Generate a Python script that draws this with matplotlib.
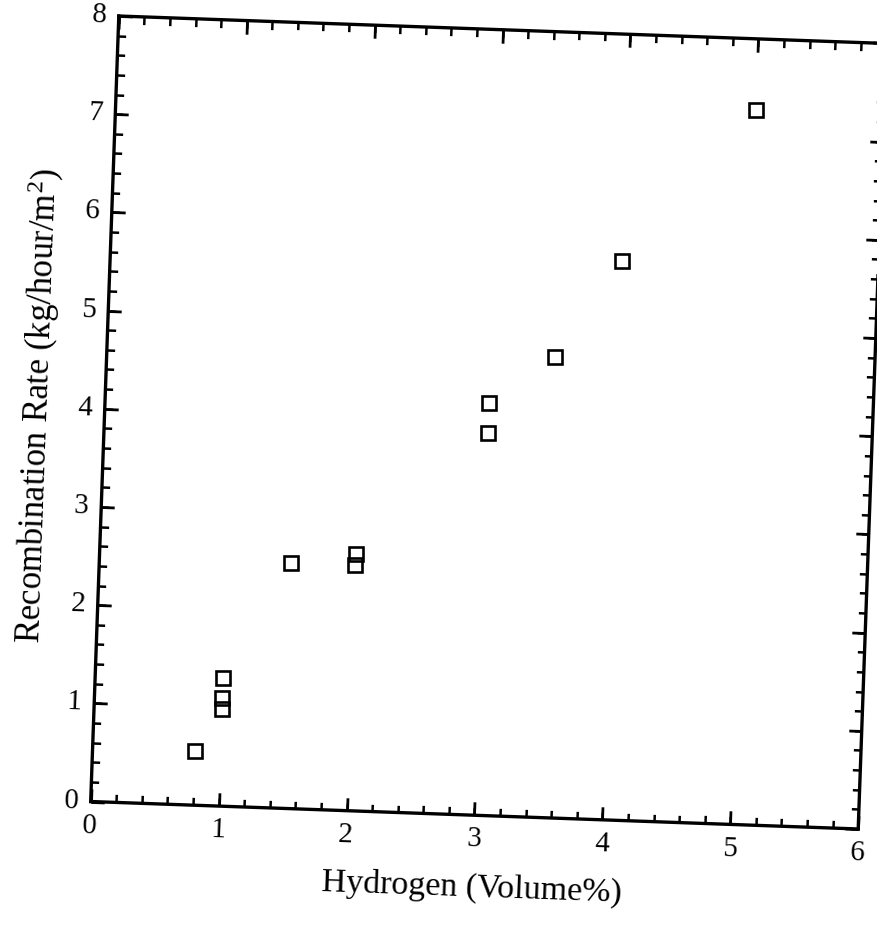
import matplotlib
matplotlib.use("Agg")
import numpy as np
import matplotlib.pyplot as plt
from matplotlib.transforms import Affine2D
import mpl_toolkits.axisartist.floating_axes as floating_axes
from mpl_toolkits.axisartist.grid_finder import FixedLocator, DictFormatter

hydrogen = [0.8, 1.0, 1.0, 1.0, 1.5, 2.0, 2.0, 3.0, 3.0, 3.5, 4.0, 5.0]
rate = [0.55, 1.30, 1.10, 0.99, 2.50, 2.61, 2.50, 4.20, 3.89, 4.69, 5.69, 7.28]
x_ticks = [0, 1, 2, 3, 4, 5, 6]
y_ticks = [0, 1, 2, 3, 4, 5, 6, 7, 8]
x_minor = [round(0.2 * i, 1) for i in range(31)]
y_minor = [round(0.2 * i, 1) for i in range(41)]

plt.rcParams['font.family'] = ['Liberation Serif', 'DejaVu Serif']
plt.rcParams['mathtext.fontset'] = 'custom'
plt.rcParams['mathtext.rm'] = 'Liberation Serif'
plt.rcParams['mathtext.it'] = 'Liberation Serif:italic'
plt.rcParams['xtick.labelsize'] = 21
plt.rcParams['ytick.labelsize'] = 21

W_FIG, H_FIG = 877, 925
fig = plt.figure(figsize=(W_FIG / 100, H_FIG / 100), dpi=100)

# scanned page: the plot is tilted slightly clockwise
tr = Affine2D().scale(128.0, 98.25).rotate_deg(-2.05)
xlim = (x_ticks[0], x_ticks[-1])
ylim = (y_ticks[0], y_ticks[-1])
corners = tr.transform([[xlim[0], ylim[0]], [xlim[1], ylim[0]],
                        [xlim[0], ylim[1]], [xlim[1], ylim[1]]])
w = np.ptp(corners[:, 0]) * 1.02
h = np.ptp(corners[:, 1]) * 1.02
cx, cy = 488.5, H_FIG - 422.5
rect = [(cx - w / 2) / W_FIG, (cy - h / 2) / H_FIG, w / W_FIG, h / H_FIG]


def make_axes(xt, yt, labels):
    fx = DictFormatter({v: str(v) for v in xt}) if labels else DictFormatter({})
    fy = DictFormatter({v: str(v) for v in yt}) if labels else DictFormatter({})
    gh = floating_axes.GridHelperCurveLinear(
        tr, extremes=(xlim[0], xlim[1], ylim[0], ylim[1]),
        grid_locator1=FixedLocator(xt), grid_locator2=FixedLocator(yt),
        tick_formatter1=fx, tick_formatter2=fy)
    a = fig.add_axes(rect, axes_class=floating_axes.FloatingAxes, grid_helper=gh)
    return a


ax = make_axes(x_ticks, y_ticks, True)
ax_minor = make_axes(x_minor, y_minor, False)
ax_minor.patch.set_visible(False)

for name in ["left", "right", "top", "bottom"]:
    art = ax.axis[name]
    art.line.set_linewidth(2.4)
    art.major_ticks.set_tick_out(False)
    art.major_ticks.set_ticksize(9.5)
    art.major_ticks.set_markeredgewidth(2.0)
    art.major_ticklabels.set_fontsize(21)
    art.major_ticklabels.set_pad(9)
    m = ax_minor.axis[name]
    m.line.set_visible(False)
    m.major_ticks.set_tick_out(False)
    m.major_ticks.set_ticksize(5.5)
    m.major_ticks.set_markeredgewidth(1.8)
    m.major_ticklabels.set_visible(False)
    m.label.set_visible(False)

for name in ["right", "top"]:
    ax.axis[name].major_ticklabels.set_visible(False)
    ax.axis[name].label.set_visible(False)

ax.axis["bottom"].label.set_text('Hydrogen (Volume%)')
ax.axis["bottom"].label.set_fontsize(24.5)
ax.axis["bottom"].label.set_pad(18)
ax.axis["left"].label.set_text('Recombination Rate (kg/hour/m$^{2}$)')
ax.axis["left"].label.set_fontsize(25)
ax.axis["left"].label.set_pad(14)

aux = ax.get_aux_axes(tr)
aux.plot(hydrogen, rate, linestyle='none', marker='s', markersize=9.5,
         markerfacecolor='none', markeredgecolor='black', markeredgewidth=1.9)

fig.savefig('out.png', dpi=100, facecolor='white')
